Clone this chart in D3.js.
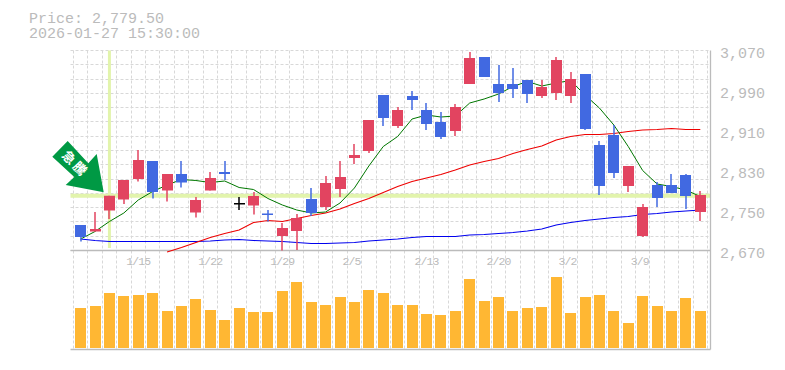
<!DOCTYPE html>
<html>
<head>
<meta charset="utf-8">
<script src="https://cdn.jsdelivr.net/npm/d3@7"></script>
<style>
  html, body { margin: 0; padding: 0; background: #fff; }
  svg { display: block; }
  text { font-family: "Liberation Mono", monospace; fill: #bbb; }
</style>
</head>
<body>
<div id="chart"></div>
<script>
var opens  = [2721,2708,2750,2772,2813,2849,2790,2823,2746,2790,2827,2765,2760,2744,2699,2709,2773,2757,2793,2855,2869,2981,2919,2979,2951,2927,2909,3003,3057,3003,3003,3011,2979,2985,2979,3023,2881,2901,2799,2699,2801,2801,2821,2747];
var closes = [2697,2713,2779.5,2811,2851,2787,2823,2806,2771,2815,2823,2765,2779,2741,2715,2735,2745,2805,2817,2861,2931,2935,2951,2971,2923,2897,2957,3055,3017,2985,2993,2983,2997,3051,3013,2913,2799,2825,2839,2757,2775,2785,2779,2781];
var highs  = [2721,2747,2779.5,2811,2871,2849,2823,2849,2777,2827,2849,2777,2787,2751,2725,2743,2795,2819,2849,2883,2931,2981,2957,2989,2965,2947,2963,3067,3057,3041,3035,3011,3011,3057,3027,3023,2889,2921,2839,2763,2807,2823,2823,2789];
var lows   = [2688,2708,2733,2763,2808,2774,2768,2796,2736,2790,2811,2751,2742,2728,2670,2671,2739,2751,2777,2843,2865,2919,2915,2951,2911,2893,2899,3003,3017,2967,2975,2965,2975,2971,2965,2911,2781,2815,2787,2697,2757,2785,2753,2729];
var volumes = [40,42,55,52,53,55,37,42,49,38,28,40,36,36,57,66,46,43,51,46,58,55,43,43,34,33,37,69,47,51,37,40,41,71,35,51,53,37,25,52,42,37,50,37];

var maShort = [2693,2708,2728,2745,2771,2788,2801,2812,2810,2806,2809,2796,2792,2774,2761,2751,2745,2747,2765,2795,2839,2878,2898,2933,2941,2937,2939,2965,2973,2983,2998,3008,2999,3005,3010,2981,2955,2921,2878,2830,2803,2798,2791,2778];
var maMid = [2667,2676,2686,2696,2704,2711,2726,2730,2728,2734,2740,2745,2753,2764,2774,2786,2798,2808,2815,2822,2831,2841,2848,2854,2864,2872,2879,2891,2898,2902,2902,2904,2908,2911,2912,2914,2912,2912];
var maMidStart = 6;
var maLong = [2693,2690,2688,2688,2688,2688,2688,2688,2688,2689,2691,2692,2690,2689,2688,2686,2684,2684,2685,2686,2689,2691,2693,2696,2698,2698,2698,2701,2702,2704,2706,2709,2713,2721,2726,2730,2733,2736,2738,2742,2744,2747,2749,2751];

var priceTicks = [3070,2990,2910,2830,2750,2670];
var dateIdx = [4,9,14,19,24,29,34,39];
var dateLabels = ["1/15","1/22","1/29","2/5","2/13","2/20","3/2","3/9"];
var hoverIdx = 2;
var hoverPrice = 2779.5;
var titleLines = ["Price: 2,779.50","2026-01-27 15:30:00"];

var width = 785, height = 370;
var plotLeft = 70.5, plotRight = 710.5, plotTop = 50.5, plotMid = 250.5, plotBottom = 349.5;

var x = d3.scaleLinear().domain([0, opens.length - 1]).range([80.6, 700.3]);
var y = d3.scaleLinear().domain([2670, 3070]).range([plotMid, plotTop]);
var v = d3.scaleLinear().domain([0, 100]).range([348, 248]);

var svg = d3.select("#chart").append("svg")
	.attr("width", width)
	.attr("height", height);

//grid
var gridH = d3.range(15).map(function(i) { return plotTop + i * (plotMid - plotTop) / 14; });
var step = x(1) - x(0);
var gridV = d3.range(45).map(function(i) { return Math.round(x(i) - step / 2 - 0.5) + 0.5; });

svg.append("g").selectAll("line").data(gridH).join("line")
	.attr("x1", plotLeft).attr("x2", plotRight)
	.attr("y1", function(d) { return Math.round(d - 0.5) + 0.5; })
	.attr("y2", function(d) { return Math.round(d - 0.5) + 0.5; })
	.attr("stroke", "#d8d8d8")
	.attr("stroke-dasharray", "3,2");

svg.append("g").selectAll("line").data(gridV).join("line")
	.attr("x1", function(d) { return d; })
	.attr("x2", function(d) { return d; })
	.attr("y1", plotTop).attr("y2", plotBottom)
	.attr("stroke", "#d8d8d8")
	.attr("stroke-dasharray", "3,2");

//hover highlight
svg.append("rect")
	.attr("x", x(hoverIdx) - 1.5).attr("y", plotTop)
	.attr("width", 3).attr("height", 197.5)
	.attr("fill", "#e2f4ac");
svg.append("rect")
	.attr("x", plotLeft).attr("y", y(hoverPrice) - 2)
	.attr("width", plotRight - plotLeft).attr("height", 4)
	.attr("fill", "#e2f4ac");

//frame
svg.append("g").selectAll("line")
	.data([[plotLeft, plotMid, plotRight, plotMid], [plotLeft, plotBottom, plotRight, plotBottom], [plotRight, plotTop, plotRight, plotBottom]])
	.join("line")
	.attr("x1", function(d) { return d[0]; })
	.attr("y1", function(d) { return d[1]; })
	.attr("x2", function(d) { return d[2]; })
	.attr("y2", function(d) { return d[3]; })
	.attr("stroke", "#bbb")
	.attr("stroke-width", 1.3);

//volume
svg.append("g").selectAll("rect").data(volumes).join("rect")
	.attr("x", function(d, i) { return Math.round(x(i) - 5.5); })
	.attr("width", 11)
	.attr("y", function(d) { return v(d); })
	.attr("height", function(d) { return v(0) - v(d); })
	.attr("fill", "#ffb733");

//moving averages
var line = d3.line()
	.x(function(d) { return x(d.i); })
	.y(function(d) { return y(d.p); });

function drawLine(vals, start, color, sw) {
	var pts = vals.map(function(p, i) { return { i: i + start, p: p }; });
	svg.append("path")
		.datum(pts)
		.attr("fill", "none")
		.attr("stroke", color)
		.attr("stroke-width", sw)
		.attr("d", line);
}
drawLine(maLong, 0, "#0000ee", 1.1);
drawLine(maMid, maMidStart, "#ee0000", 1.1);
drawLine(maShort, 0, "#007700", 1);

//candles
function candleColor(i) {
	if (opens[i] == closes[i]) return "#000";
	return closes[i] > opens[i] ? "#e24460" : "#4169e1";
}
var candles = svg.append("g").selectAll("g").data(opens).join("g");

candles.append("rect")
	.attr("x", function(d, i) { return Math.round(x(i)) - 0.75; })
	.attr("width", 1.5)
	.attr("y", function(d, i) { return y(highs[i]); })
	.attr("height", function(d, i) { return y(lows[i]) - y(highs[i]); })
	.attr("fill", function(d, i) { return candleColor(i); });

candles.append("rect")
	.attr("x", function(d, i) { return Math.round(x(i) - 5.5); })
	.attr("width", 11)
	.attr("y", function(d, i) { return y(Math.max(opens[i], closes[i])); })
	.attr("height", function(d, i) { return Math.max(Math.abs(y(opens[i]) - y(closes[i])), 1.5); })
	.attr("fill", function(d, i) { return candleColor(i); });

//axis labels
svg.append("g").selectAll("text").data(priceTicks).join("text")
	.attr("x", 720)
	.attr("y", function(d) { return y(d) + 7; })
	.style("font-size", "15px")
	.text(d3.format(","));

svg.append("g").selectAll("text").data(dateLabels).join("text")
	.attr("x", function(d, i) { return x(dateIdx[i]) - 12; })
	.attr("y", 265)
	.style("font-size", "11.5px")
	.style("letter-spacing", "-0.9px")
	.text(function(d) { return d; });

svg.append("g").selectAll("text").data(titleLines).join("text")
	.attr("x", 29)
	.attr("y", function(d, i) { return 22.5 + i * 15; })
	.style("font-size", "15px")
	.text(function(d) { return d; });

//signal arrow
var arrow = [[67.7,141],[52.3,156.7],[74.3,177],[65.7,185],[103.7,192.3],[96.7,154],[88.3,163.3]];
svg.append("polygon")
	.attr("points", arrow.join(" "))
	.attr("fill", "#009944");
var tags = [["急", 69, 157.5], ["騰", 80, 168.5]];
svg.append("g").selectAll("text").data(tags).join("text")
	.attr("transform", function(d) { return "translate(" + d[1] + "," + d[2] + ")rotate(45)"; })
	.attr("text-anchor", "middle")
	.attr("dy", "0.36em")
	.style("font-family", "'Noto Sans CJK JP'")
	.style("font-weight", 700)
	.style("font-size", "13px")
	.style("fill", "#fff")
	.text(function(d) { return d[0]; });
</script>
</body>
</html>
